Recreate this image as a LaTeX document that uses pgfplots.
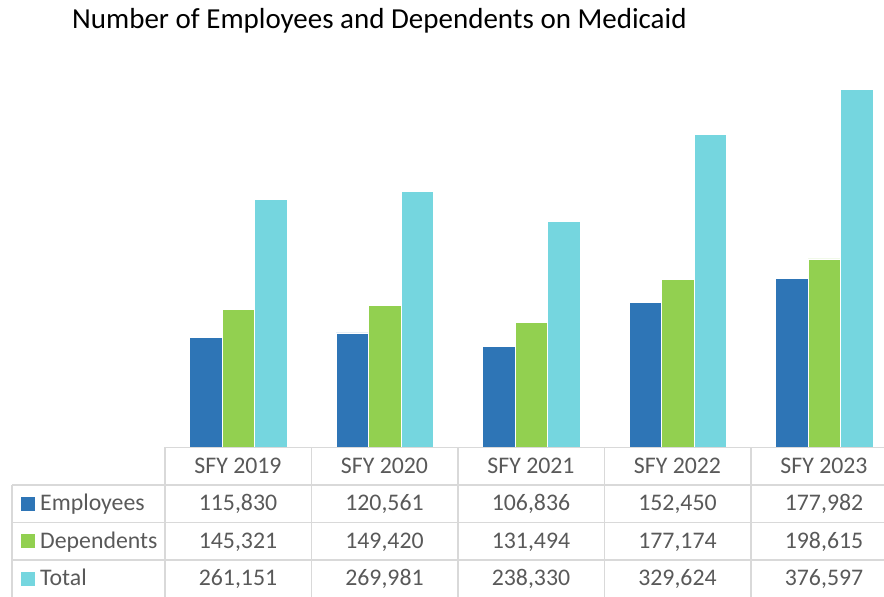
\documentclass[border=0pt]{standalone}
\usepackage{pgfplots}
\pgfplotsset{compat=1.18}
\usepackage{pgfplotstable}
\usepackage{fontspec}
\setmainfont{Carlito}
\definecolor{cemp}{HTML}{2E75B6}
\definecolor{cdep}{HTML}{92D050}
\definecolor{ctot}{HTML}{75D6DF}
\definecolor{txtgray}{HTML}{595959}
\definecolor{tabline}{HTML}{D9D9D9}

% SFY 2019 .. 2023
\pgfplotstableread{
x yr   emp    dep    tot
0 2019 115830 145321 261151
1 2020 120561 149420 269981
2 2021 106836 131494 238330
3 2022 152450 177174 329624
4 2023 177982 198615 376597
}\medicaid

\newcommand{\tabfont}{\fontsize{23.8}{28}\selectfont}
% print an integer with a thousands comma, in text mode
\newcount\thA \newcount\thB
\newcommand{\thou}[1]{%
  \thA=\numexpr(#1-500)/1000\relax
  \thB=\numexpr#1-1000*\thA\relax
  \the\thA,\ifnum\thB<100 0\fi\ifnum\thB<10 0\fi\the\thB}

\begin{document}
\begin{tikzpicture}[x=1pt, y=1pt]
\useasboundingbox (0,0) rectangle (884,597);
\clip (0,0) rectangle (884,597);

\node[anchor=base west, inner sep=0pt, font=\fontsize{29}{34}\selectfont] at (72,568) {Number of Employees and Dependents on Medicaid};

\begin{axis}[
  at={(165pt,149.5pt)}, anchor=south west,
  scale only axis, width=732.5pt, height=380pt,
  xmin=-0.5, xmax=4.5, ymin=0, ymax=400000,
  hide axis, clip=false,
  ybar=0pt, bar width=32.5pt,
  every axis plot/.append style={draw=white, line width=0.5pt}]
  \addplot[fill=cemp] table[x=x, y=emp] {\medicaid};
  \addplot[fill=cdep] table[x=x, y=dep] {\medicaid};
  \addplot[fill=ctot] table[x=x, y=tot] {\medicaid};
\end{axis}

% data table grid
\begin{scope}[tabline, line width=1.5pt]
  \draw (165,149.5) -- (884,149.5);
  \foreach \y in {112,74.5,37} \draw (12,\y) -- (884,\y);
  \draw (12,112) -- (12,0);
  \foreach \x in {165,311.5,458,604.5,751} \draw (\x,149.5) -- (\x,0);
\end{scope}

% legend keys
\fill[cemp] (21,86) rectangle (35,100);
\fill[cdep] (21,48.5) rectangle (35,62.5);
\fill[ctot] (21,11) rectangle (35,25);
\begin{scope}[every node/.style={anchor=base west, inner sep=0pt, font=\tabfont, text=txtgray}]
  \node at (40,86) {Employees};
  \node at (40,48.5) {Dependents};
  \node at (40,11) {Total};
\end{scope}

% table cells
\foreach \i in {0,...,4} {
  \pgfmathsetmacro{\cx}{238+146.5*\i}
  \pgfplotstablegetelem{\i}{yr}\of\medicaid \edef\yr{\pgfplotsretval}
  \pgfplotstablegetelem{\i}{emp}\of\medicaid \edef\ve{\pgfplotsretval}
  \pgfplotstablegetelem{\i}{dep}\of\medicaid \edef\vd{\pgfplotsretval}
  \pgfplotstablegetelem{\i}{tot}\of\medicaid \edef\vt{\pgfplotsretval}
  \node[anchor=base, inner sep=0pt, font=\tabfont, text=txtgray] at (\cx,123.5) {SFY \yr};
  \node[anchor=base, inner sep=0pt, font=\tabfont, text=txtgray] at (\cx,86) {\thou{\ve}};
  \node[anchor=base, inner sep=0pt, font=\tabfont, text=txtgray] at (\cx,48.5) {\thou{\vd}};
  \node[anchor=base, inner sep=0pt, font=\tabfont, text=txtgray] at (\cx,11) {\thou{\vt}};
}
\end{tikzpicture}
\end{document}
